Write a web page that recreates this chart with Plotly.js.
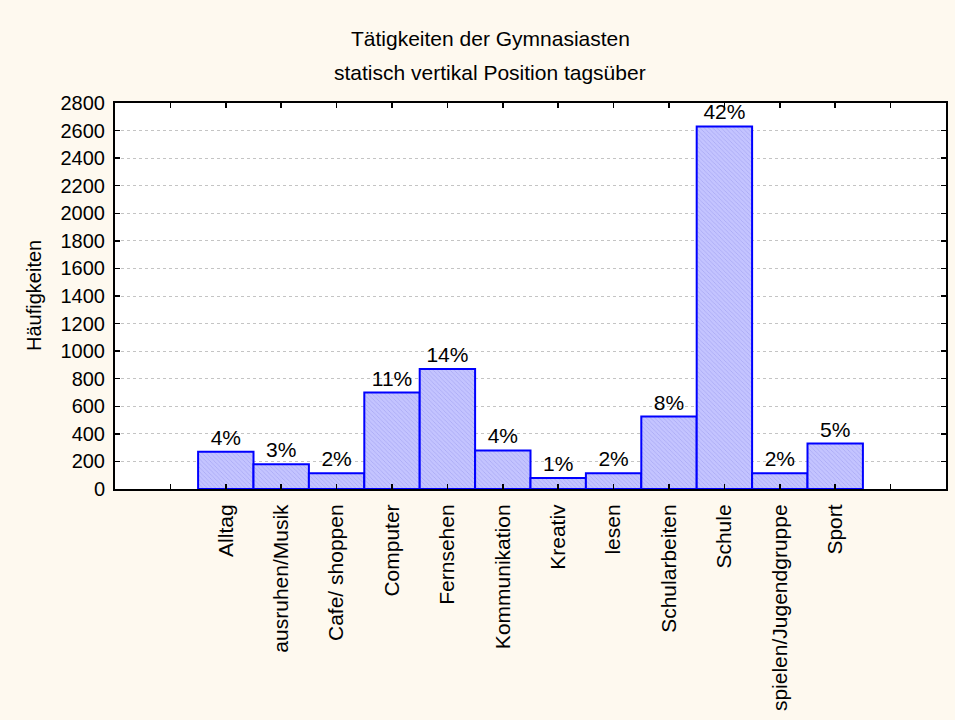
<!DOCTYPE html>
<html>
<head>
<meta charset="utf-8">
<script src="https://cdn.plot.ly/plotly-3.0.1.min.js"></script>
<style>html,body{margin:0;padding:0;background:#FEF9EF;}#chart{width:955px;height:720px;}</style>
</head>
<body>
<div id="chart"></div>
<script>
var categories = ["Alltag", "ausruhen/Musik", "Cafe/ shoppen", "Computer", "Fernsehen", "Kommunikation", "Kreativ", "lesen", "Schularbeiten", "Schule", "spielen/Jugendgruppe", "Sport"];
var counts = [270, 180, 115, 700, 870, 280, 80, 115, 525, 2630, 115, 330];
var percentLabels = ["4%", "3%", "2%", "11%", "14%", "4%", "1%", "2%", "8%", "42%", "2%", "5%"];
var yTicks = [0, 200, 400, 600, 800, 1000, 1200, 1400, 1600, 1800, 2000, 2200, 2400, 2600, 2800];
var titleLine1 = "Tätigkeiten der Gymnasiasten";
var titleLine2 = "statisch vertikal Position tagsüber";
var yTitle = "Häufigkeiten";

var positions = categories.map(function(c, i){ return i; });
var tickPositions = [-1].concat(positions).concat([categories.length]);
var tickTexts = [""].concat(categories).concat([""]);

var FONT = "Liberation Sans, Arial, sans-serif";
var PLOT_L = 115, PLOT_R = 946, PLOT_T = 103, PLOT_B = 489;
var PW = PLOT_R - PLOT_L, PH = PLOT_B - PLOT_T;

var trace = {
  type: "bar",
  x: positions,
  y: counts,
  text: percentLabels,
  textposition: "outside",
  cliponaxis: false,
  textfont: {family: FONT, size: 21, color: "#000000"},
  width: 1,
  marker: {
    color: "#C2C2FF",
    line: {color: "#0000FF", width: 2},
    pattern: {shape: "\\", fillmode: "replace", bgcolor: "#C4C4FF", fgcolor: "#A8A8F4", size: 3, solidity: 0.25}
  },
  hoverinfo: "skip"
};

var layout = {
  width: 955,
  height: 720,
  paper_bgcolor: "#FEF9EF",
  plot_bgcolor: "#FFFFFF",
  margin: {l: PLOT_L, r: 955 - PLOT_R, t: PLOT_T, b: 720 - PLOT_B},
  showlegend: false,
  bargap: 0,
  font: {family: FONT, size: 20, color: "#000000"},
  annotations: [
    {
      text: titleLine1,
      xref: "paper", yref: "paper",
      x: (490 - PLOT_L) / PW, xanchor: "center",
      y: (PLOT_B - 38) / PH, yanchor: "middle",
      showarrow: false,
      font: {family: FONT, size: 21, color: "#000000"}
    },
    {
      text: titleLine2,
      xref: "paper", yref: "paper",
      x: (490 - PLOT_L) / PW, xanchor: "center",
      y: (PLOT_B - 73) / PH, yanchor: "middle",
      showarrow: false,
      font: {family: FONT, size: 21, color: "#000000"}
    },
    {
      text: yTitle,
      xref: "paper", yref: "paper",
      x: (34 - PLOT_L) / PW, xanchor: "center",
      y: (PLOT_B - 296) / PH, yanchor: "middle",
      textangle: -90,
      showarrow: false,
      font: {family: FONT, size: 20, color: "#000000"}
    }
  ],
  xaxis: {
    range: [-2, 13],
    tickmode: "array",
    tickvals: tickPositions,
    ticktext: tickTexts,
    tickangle: -90,
    ticks: "inside",
    ticklen: 5,
    tickwidth: 1.5,
    tickcolor: "#000000",
    showline: true,
    linecolor: "#000000",
    linewidth: 2,
    mirror: "ticks",
    showgrid: false,
    zeroline: false,
    ticklabelstandoff: 5,
    tickfont: {family: FONT, size: 21, color: "#000000"}
  },
  yaxis: {
    range: [0, 2800],
    tickmode: "array",
    tickvals: yTicks,
    ticktext: yTicks.map(String),
    ticks: "inside",
    ticklen: 5,
    tickwidth: 1.5,
    tickcolor: "#000000",
    showline: true,
    linecolor: "#000000",
    linewidth: 2,
    mirror: "ticks",
    showgrid: true,
    gridcolor: "#C4C4C4",
    griddash: "dot",
    gridwidth: 1,
    zeroline: false,
    ticklabelstandoff: 4,
    tickfont: {family: FONT, size: 20, color: "#000000"}
  }
};

Plotly.newPlot("chart", [trace], layout, {staticPlot: true, displayModeBar: false});
</script>
</body>
</html>
